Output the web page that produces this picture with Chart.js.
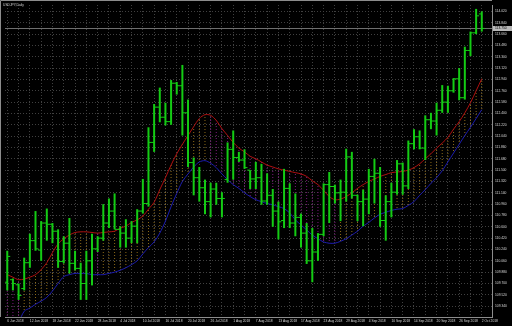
<!DOCTYPE html>
<html>
<head>
<meta charset="utf-8">
<script src="https://cdn.jsdelivr.net/npm/chart.js@4/dist/chart.umd.min.js"></script>
<style>
  html, body { margin: 0; padding: 0; background: #000; }
  canvas { display: block; }
</style>
</head>
<body>
<canvas id="usdjpyChart" width="512" height="326"></canvas>
<script>
var symbolTitle = 'USDJPY,Daily'

// daily bars, 6 Jun 2018 .. 2 Oct 2018
var openPrices = [
  109.72, 109.76, 109.68, 109.62, 110.03, 110.38, 110.23, 110.66, 110.64, 110.53,
  110.05, 110.34, 110.02, 109.94, 109.70, 110.06, 110.25, 110.42, 110.66, 110.85,
  110.56, 110.50, 110.42, 110.61, 110.85, 110.97, 111.94, 112.50, 112.34, 112.27,
  112.88, 112.84, 112.41, 111.62, 111.38, 111.22, 111.00, 111.20, 111.05, 111.35,
  111.83, 111.70, 111.66, 111.50, 111.36, 111.38, 111.01, 111.10, 110.85, 110.70,
  111.21, 110.66, 110.75, 110.50, 110.06, 110.20, 110.48, 111.27, 111.24, 111.14,
  111.15, 111.71, 111.10, 111.00, 111.04, 111.40, 111.45, 110.70, 111.00, 111.15,
  111.60, 111.25, 111.92, 112.03, 111.85, 112.30, 112.28, 112.45, 112.58, 112.76,
  112.95, 112.65, 113.40, 113.68, 113.98
]
var highPrices = [
  110.22, 109.78, 109.70, 110.11, 110.49, 110.85, 110.69, 110.89, 110.66, 110.56,
  110.45, 110.74, 110.22, 110.03, 110.22, 110.49, 110.45, 110.96, 111.05, 111.13,
  110.61, 110.72, 110.69, 110.88, 111.36, 112.18, 112.55, 112.81, 112.57, 112.93,
  112.90, 113.17, 112.62, 111.70, 111.55, 111.35, 111.30, 111.30, 111.15, 111.94,
  112.13, 111.79, 111.83, 111.50, 111.63, 111.60, 111.45, 111.20, 111.00, 111.52,
  111.29, 111.13, 110.81, 110.66, 110.58, 110.50, 111.29, 111.47, 111.27, 111.35,
  111.84, 111.79, 111.11, 111.19, 111.52, 111.68, 111.55, 111.10, 111.30, 111.66,
  111.62, 111.97, 112.15, 112.13, 112.37, 112.41, 112.57, 112.85, 112.84, 112.96,
  113.12, 113.46, 113.70, 114.06, 114.02
]
var lowPrices = [
  109.59, 109.59, 109.44, 109.59, 109.95, 110.22, 110.06, 110.38, 110.34, 109.95,
  110.02, 109.86, 109.91, 109.44, 109.44, 109.67, 110.20, 110.38, 110.58, 110.56,
  110.27, 110.27, 110.34, 110.34, 110.81, 110.92, 111.79, 112.26, 112.21, 112.22,
  112.70, 112.05, 111.55, 111.10, 111.00, 110.80, 110.75, 110.95, 110.75, 111.30,
  111.35, 111.63, 111.52, 111.20, 111.20, 110.95, 110.95, 110.60, 110.40, 110.58,
  110.58, 110.45, 110.27, 110.01, 109.72, 110.06, 110.45, 110.66, 110.97, 110.69,
  111.00, 111.05, 110.69, 110.61, 110.80, 110.97, 110.60, 110.38, 110.75, 111.11,
  111.11, 111.20, 111.83, 111.83, 111.66, 112.15, 112.05, 112.41, 112.41, 112.73,
  112.61, 112.62, 113.31, 113.66, 113.70
]
var closePrices = [
  110.13, 109.70, 109.51, 110.03, 110.38, 110.25, 110.66, 110.64, 110.53, 110.05,
  110.34, 110.02, 109.94, 109.70, 110.06, 110.25, 110.42, 110.66, 110.85, 110.56,
  110.50, 110.42, 110.61, 110.85, 110.97, 111.94, 112.50, 112.34, 112.27, 112.88,
  112.84, 112.41, 111.62, 111.38, 111.22, 111.00, 111.20, 111.05, 111.05, 111.83,
  111.70, 111.66, 111.54, 111.36, 111.38, 111.01, 111.10, 110.85, 110.68, 111.21,
  110.66, 110.75, 110.50, 110.06, 110.20, 110.48, 111.27, 111.24, 111.14, 111.15,
  111.71, 111.10, 111.00, 111.04, 111.40, 111.45, 110.70, 111.00, 111.15, 111.60,
  111.25, 111.92, 112.03, 111.85, 112.30, 112.28, 112.45, 112.58, 112.76, 112.95,
  112.65, 113.40, 113.68, 113.95, 113.75
]

// indicator lines (upper red, lower blue)
var redLine = [
  109.84, 109.80, 109.76, 109.77, 109.80, 109.84, 109.92, 110.03, 110.19, 110.33,
  110.41, 110.47, 110.51, 110.52, 110.52, 110.51, 110.50, 110.51, 110.52, 110.53,
  110.58, 110.61, 110.67, 110.71, 110.77, 110.88, 110.99, 111.19, 111.38, 111.58,
  111.76, 111.91, 112.05, 112.19, 112.32, 112.38, 112.37, 112.29, 112.16, 112.05,
  111.94, 111.85, 111.79, 111.72, 111.68, 111.63, 111.58, 111.55, 111.52, 111.50,
  111.48, 111.46, 111.44, 111.40, 111.33, 111.27, 111.18, 111.08, 111.03, 111.04,
  111.08, 111.14, 111.21, 111.27, 111.32, 111.36, 111.40, 111.43, 111.46, 111.47,
  111.48, 111.50, 111.54, 111.60, 111.68, 111.76, 111.85, 111.93, 112.02, 112.15,
  112.27, 112.41, 112.57, 112.76, 112.95
]
var blueLine = [
  108.85, 108.95, 109.08, 109.26, 109.31, 109.37, 109.42, 109.48, 109.58, 109.70,
  109.81, 109.84, 109.86, 109.86, 109.86, 109.84, 109.84, 109.84, 109.86, 109.88,
  109.91, 109.95, 110.00, 110.06, 110.17, 110.27, 110.36, 110.50, 110.69, 110.92,
  111.13, 111.32, 111.44, 111.55, 111.63, 111.65, 111.61, 111.54, 111.44, 111.35,
  111.27, 111.21, 111.14, 111.08, 111.03, 111.00, 110.97, 110.95, 110.92, 110.89,
  110.82, 110.71, 110.63, 110.55, 110.47, 110.41, 110.36, 110.34, 110.34, 110.37,
  110.41, 110.47, 110.53, 110.61, 110.67, 110.74, 110.80, 110.83, 110.86, 110.88,
  110.89, 110.94, 111.00, 111.10, 111.19, 111.29, 111.38, 111.49, 111.63, 111.77,
  111.91, 112.05, 112.18, 112.32, 112.46
]

// one date label every 4 bars
var dateTicks = [
  '6 Jun 2018', '12 Jun 2018', '18 Jun 2018', '22 Jun 2018', '28 Jun 2018',
  '4 Jul 2018', '10 Jul 2018', '16 Jul 2018', '20 Jul 2018', '26 Jul 2018',
  '1 Aug 2018', '7 Aug 2018', '13 Aug 2018', '17 Aug 2018', '23 Aug 2018',
  '29 Aug 2018', '4 Sep 2018', '10 Sep 2018', '14 Sep 2018', '20 Sep 2018',
  '26 Sep 2018', '2 Oct 2018'
]
var priceTicks = [
  109.34, 109.52, 109.70, 109.88, 110.06, 110.24, 110.42, 110.60, 110.78,
  110.96, 111.14, 111.32, 111.50, 111.68, 111.86, 112.04, 112.22, 112.40,
  112.58, 112.76, 112.94, 113.12, 113.30, 113.48, 113.66, 113.84, 114.02
]

var canvas = document.getElementById('usdjpyChart')
var ctx2d = canvas.getContext('2d')

var textFont = { family: '"Liberation Sans", Arial, sans-serif', size: 3.3 }
var barGreen = '#14cc14'
var gridGrey = '#404040'
var frameGrey = '#8c8c8c'

function dotPattern (color) {
  var tile = document.createElement('canvas')
  tile.width = 1
  tile.height = 3
  var g = tile.getContext('2d')
  g.fillStyle = color
  g.fillRect(0, 0, 1, 1)
  return ctx2d.createPattern(tile, 'repeat')
}

var risingFill = dotPattern('#8c6a18')
var fallingFill = dotPattern('#7c187c')

// hatch colour follows the slope of the red line
var fillColors = redLine.map(function (v, i) {
  if (i === 0) return fallingFill
  return v >= redLine[i - 1] ? risingFill : fallingFill
})

var hatchData = redLine.map(function (v, i) { return { x: i, y: [ blueLine[i], v ] } })
var rangeData = highPrices.map(function (h, i) { return { x: i, y: [ lowPrices[i], h ] } })
var openData = openPrices.map(function (v, i) { return { x: i - 0.26, y: v } })
var closeData = closePrices.map(function (v, i) { return { x: i + 0.26, y: v } })
var redData = redLine.map(function (v, i) { return { x: i, y: v } })
var blueData = blueLine.map(function (v, i) { return { x: i, y: v } })

var terminalLook = {
  id: 'terminalLook',
  beforeDraw: function (chart) {
    var ctx = chart.ctx
    ctx.save()
    ctx.fillStyle = '#000'
    ctx.fillRect(0, 0, chart.width, chart.height)
    ctx.restore()
  },
  beforeDatasetsDraw: function (chart) {
    var ctx = chart.ctx
    var area = chart.chartArea
    var py = Math.round(chart.scales.y.getPixelForValue(closePrices[closePrices.length - 1])) + 0.5
    ctx.save()
    ctx.strokeStyle = '#6e6e6e'
    ctx.lineWidth = 1
    ctx.beginPath()
    ctx.moveTo(area.left, py)
    ctx.lineTo(area.right, py)
    ctx.stroke()
    ctx.restore()
  },
  afterDraw: function (chart) {
    var ctx = chart.ctx
    var area = chart.chartArea
    var last = closePrices[closePrices.length - 1]
    var py = Math.round(chart.scales.y.getPixelForValue(last)) + 0.5
    ctx.save()
    ctx.strokeStyle = frameGrey
    ctx.lineWidth = 1
    ctx.beginPath()
    ctx.moveTo(0.5, area.bottom)
    ctx.lineTo(0.5, 0.5)
    ctx.lineTo(area.right, 0.5)
    ctx.stroke()

    ctx.fillStyle = '#b8b8b8'
    ctx.fillRect(area.right + 1, py - 2.5, chart.width - area.right - 1, 5)
    ctx.fillStyle = '#000'
    ctx.font = textFont.size + 'px ' + textFont.family
    ctx.textBaseline = 'middle'
    ctx.textAlign = 'left'
    ctx.fillText(last.toFixed(3), area.right + 3, py)

    ctx.fillStyle = '#d0d0d0'
    ctx.textBaseline = 'top'
    ctx.fillText(symbolTitle, 3, 3)
    ctx.restore()
  }
}

var usdjpyChart = new Chart(canvas, {
  type: 'bar',
  data: {
    datasets: [
      {
        type: 'bar',
        data: hatchData,
        backgroundColor: fillColors,
        barThickness: 1,
        grouped: false,
        inflateAmount: 0,
        borderWidth: 0,
        order: 4
      },
      {
        type: 'line',
        data: redData,
        borderColor: '#b01010',
        borderWidth: 1,
        pointRadius: 0,
        tension: 0.3,
        order: 3
      },
      {
        type: 'line',
        data: blueData,
        borderColor: '#1c1cb0',
        borderWidth: 1,
        pointRadius: 0,
        tension: 0.3,
        order: 3
      },
      {
        type: 'bar',
        data: rangeData,
        backgroundColor: barGreen,
        barThickness: 2,
        grouped: false,
        inflateAmount: 0,
        borderWidth: 0,
        order: 2
      },
      {
        type: 'line',
        data: openData,
        showLine: false,
        pointStyle: 'line',
        pointRadius: 1.5,
        pointBorderWidth: 1,
        pointBorderColor: barGreen,
        borderColor: barGreen,
        order: 1
      },
      {
        type: 'line',
        data: closeData,
        showLine: false,
        pointStyle: 'line',
        pointRadius: 1.5,
        pointBorderWidth: 1,
        pointBorderColor: barGreen,
        borderColor: barGreen,
        order: 1
      }
    ]
  },
  options: {
    responsive: false,
    maintainAspectRatio: false,
    devicePixelRatio: 1,
    animation: false,
    events: [],
    layout: { padding: { left: 1, top: 1, right: 0, bottom: 0 } },
    plugins: {
      legend: { display: false },
      tooltip: { enabled: false }
    },
    scales: {
      x: {
        type: 'linear',
        min: -0.4,
        max: 85.81,
        offset: false,
        afterBuildTicks: function (scale) {
          var ticks = []
          for (var i = 0; i < closePrices.length; i += 2) ticks.push({ value: i })
          scale.ticks = ticks
        },
        afterFit: function (scale) { scale.height = 9 },
        ticks: {
          autoSkip: false,
          maxRotation: 0,
          align: 'start',
          padding: 2,
          color: '#d8d8d8',
          font: textFont,
          callback: function (value) {
            return value % 4 === 0 ? dateTicks[value / 4] : ''
          }
        },
        grid: { color: gridGrey, drawTicks: false, offset: false },
        border: { color: frameGrey, dash: [ 1, 2 ] }
      },
      y: {
        type: 'linear',
        position: 'right',
        min: 109.168,
        max: 114.122,
        afterBuildTicks: function (scale) {
          scale.ticks = priceTicks.map(function (v) { return { value: v } })
        },
        afterFit: function (scale) { scale.width = 20 },
        ticks: {
          padding: 3,
          color: '#d8d8d8',
          font: textFont,
          callback: function (value) { return value.toFixed(3) }
        },
        grid: { color: gridGrey, drawTicks: false },
        border: { color: frameGrey, dash: [ 1, 2 ] }
      }
    }
  },
  plugins: [ terminalLook ]
})
</script>
</body>
</html>
